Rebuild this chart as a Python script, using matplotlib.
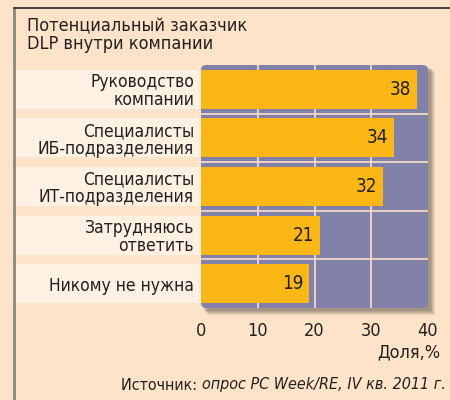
import matplotlib
matplotlib.use("Agg")
import matplotlib.pyplot as plt
from matplotlib.patches import Rectangle, FancyBboxPatch
from matplotlib.lines import Line2D
from matplotlib.transforms import blended_transform_factory

categories = ["Руководство\nкомпании", "Специалисты\nИБ-подразделения",
              "Специалисты\nИТ-подразделения", "Затрудняюсь\nответить",
              "Никому не нужна"]
values = [38, 34, 32, 21, 19]
xticks = [0, 10, 20, 30, 40]
title = "Потенциальный заказчик\nDLP внутри компании"
xlabel = "Доля,%"
source_normal = "Источник: "
source_italic = "опрос PC Week/RE, IV кв. 2011 г."

plt.rcParams['font.family'] = ["DejaVu Sans"]
plt.rcParams['font.stretch'] = "condensed"

BG = "#FDE4C9"
STRIP = "#FEF0E2"
PURPLE = "#8080A8"
BAR = "#FBB716"
GRID = "#F3D8C8"
TXT = "#231F20"

W, H = 450, 400
fig = plt.figure(figsize=(4.5, 4.0), dpi=100, facecolor=BG)

def fx(p): return p / W
def fy(p): return 1 - p / H

ax_l, ax_r, ax_t, ax_b = 201, 428, 65, 308
ax = fig.add_axes([fx(ax_l), fy(ax_b), fx(ax_r - ax_l), (ax_b - ax_t) / H])
ax.set_facecolor("none")
ax.set_zorder(5)

# shadow
for i, a in enumerate([0.10, 0.10, 0.12, 0.14, 0.16]):
    off = 7 - i
    fig.add_artist(Rectangle((fx(ax_l + off), fy(ax_b + off)), fx(ax_r - ax_l), (ax_b - ax_t) / H,
                             transform=fig.transFigure, facecolor="#4a4238", alpha=a,
                             edgecolor="none", zorder=0.5))
# purple background
fig.add_artist(FancyBboxPatch((fx(ax_l), fy(ax_b)), fx(ax_r - ax_l), (ax_b - ax_t) / H,
                              boxstyle="round,pad=0,rounding_size=0.012",
                              transform=fig.transFigure, facecolor=PURPLE,
                              edgecolor="none", zorder=0.6))

y = list(range(len(categories)))
ax.set_xlim(0, 40)
ax.set_ylim(4.5, -0.5)

# label strips
bt = blended_transform_factory(fig.transFigure, ax.transData)
for yi in y:
    fig.add_artist(Rectangle((fx(15), yi - 0.4), fx(ax_l - 15), 0.8, transform=bt,
                             facecolor=STRIP, edgecolor="none", zorder=0.7))

for xv in [10, 20, 30]:
    ax.axvline(xv, color=GRID, lw=1.3, zorder=1)
for yv in [0.5, 1.5, 2.5, 3.5]:
    ax.axhline(yv, color=GRID, lw=1.3, zorder=1)

ax.barh(y, values, height=0.8, color=BAR, zorder=2)
for yi, v in zip(y, values):
    ax.text(v - 1.0, yi, str(v), ha="right", va="center", fontsize=13.5,
            color=TXT, zorder=3)

ax.set_yticks(y)
ax.set_yticklabels(categories, fontsize=12.5, color=TXT, linespacing=1.0)
ax.set_xticks(xticks)
ax.set_xticklabels([str(t) for t in xticks], fontsize=13, color=TXT)
ax.tick_params(axis="both", length=0)
ax.tick_params(axis="y", pad=5)
ax.tick_params(axis="x", pad=10)
for s in ax.spines.values():
    s.set_visible(False)

fig.text(fx(440), fy(352), xlabel, ha="right", va="center", fontsize=13, color=TXT)

# source line
t2 = fig.text(fx(446), fy(385), source_italic, ha="right", va="center",
              fontsize=11.5, style="italic", color=TXT)
fig.canvas.draw()
bb = t2.get_window_extent()
fig.text(bb.x0 / (W), fy(385), source_normal, ha="right", va="center",
         fontsize=11.5, color=TXT)

fig.text(fx(27), fy(17), title, ha="left", va="top", fontsize=13,
         color=TXT, linespacing=1.0)

# borders
fig.add_artist(Line2D([fx(14), fx(14)], [fy(8), 0], transform=fig.transFigure,
                      color="#8a8580", lw=2))
fig.add_artist(Line2D([fx(14), 1], [fy(8), fy(8)], transform=fig.transFigure,
                      color="#3a3530", lw=1.3))

fig.savefig("out.png", dpi=100, facecolor=BG)
